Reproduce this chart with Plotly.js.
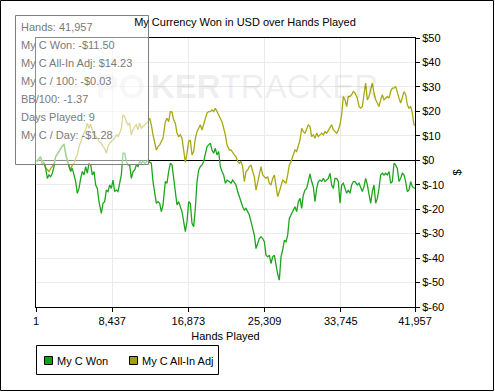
<!DOCTYPE html>
<html>
<head>
<meta charset="utf-8">
<script src="https://cdn.plot.ly/plotly-3.0.1.min.js"></script>
<style>
html,body{margin:0;padding:0;background:#fff;}
#chart{width:495px;height:392px;}
</style>
</head>
<body>
<div id="chart"></div>
<script>
// ---- data ----
const seriesNames = ['My C Won', 'My C All-In Adj'];
const hands = [1,
149,333,518,702,887,1071,1256,1440,1625,1809,1994,2178,2363,2547,2732,2916,3101,3285,3470,3654,3839,4023,4208,4392,4577,4761,4946,5130,5315,5499,5684,5868,6053,6237,6422,6606,6791,6975,
7233,7418,7602,7787,7971,8156,8340,8525,8709,8894,9078,9263,9447,9632,9816,10001,10185,10370,10554,10739,10923,11108,11292,11477,11661,11846,12030,12215,12399,12584,12768,12953,13137,13322,13506,13691,13875,14060,
14318,14503,14687,14872,15056,15241,15425,15610,15794,15979,16163,16348,16532,16717,16901,17086,17270,17455,17639,17824,18008,18193,18377,18562,18746,18931,19115,19300,19484,19669,19853,20038,20222,20407,20591,20776,20960,21145,
21403,21588,21772,21957,22141,22326,22510,22695,22879,23064,23248,23433,23617,23802,23986,24171,24355,24540,24724,24909,25093,25278,25462,25647,25831,26016,26200,26385,26569,26754,26938,27123,27307,27492,27676,27861,28045,28230,
28488,28672,28857,29041,29226,29410,29595,29779,29964,30148,30333,30517,30702,30886,31071,31255,31440,31624,31809,31993,32178,32362,32547,32731,32916,33100,33285,33469,33654,33838,34023,34207,34392,34576,34761,34945,35130,35314,
35573,35757,35942,36126,36311,36495,36680,36864,37049,37233,37418,37602,37787,37971,38156,38340,38525,38709,38894,39078,39263,39447,39632,39816,40001,40185,40370,40554,40739,40923,41108,41292,41477,41661,41846,
41957];
const wonUSD = [0,
-0.3,0.8,1.5,-1.9,-0.8,-3.3,-7.4,-6.0,-6.7,-5.3,-2.6,1.5,2.9,3.6,4.9,6.0,6.6,2.2,-0.5,-2.6,-4.6,-3.3,-6.0,-8.7,-13.5,-11.5,-7.4,-4.6,-6.0,-2.6,-5.3,-1.2,-1.9,-6.0,-4.6,-10.1,-11.5,-16.9,
-21.7,-17.6,-16.9,-12.2,-12.8,-10.1,-11.5,-8.1,-12.8,-12.2,-12.8,-9.4,-6.0,2.9,2.9,-0.5,-1.9,-1.9,-7.4,-4.6,-4.0,-1.9,-2.6,-0.5,-1.2,-0.3,-1.2,-0.8,0.1,-0.8,-1.2,-8.7,-12.8,-17.6,-16.9,-17.6,-21.0,-18.3,
-8.7,-9.4,-4.6,-1.2,-1.9,-7.4,-12.8,-18.3,-16.9,-19.0,-21.0,-25.1,-29.2,-25.1,-16.9,-17.6,-25.8,-27.2,-19.7,-8.7,-4.0,-2.6,-1.9,-0.5,2.2,5.6,6.3,7.0,4.2,2.9,4.9,2.2,3.6,-2.6,-4.6,-6.0,-9.4,-8.1,
-8.7,-9.4,-8.1,-9.4,-10.1,-12.8,-14.9,-17.6,-19.0,-20.4,-19.7,-21.0,-22.4,-25.1,-27.9,-30.6,-36.1,-34.0,-32.0,-31.3,-32.0,-33.3,-38.8,-39.5,-38.8,-42.2,-39.5,-38.8,-42.9,-46.5,-49.0,-39.5,-36.7,-32.7,-33.3,-30.6,-23.8,-22.4,
-21.0,-19.0,-21.0,-16.9,-15.6,-19.7,-14.2,-12.2,-11.5,-8.7,-5.6,-8.7,-10.8,-16.9,-11.5,-8.7,-8.1,-8.7,-7.4,-8.7,-8.1,-7.4,-5.3,-10.1,-11.5,-7.4,-7.4,-8.7,-17.6,-10.1,-9.4,-11.5,-13.5,-12.2,-13.5,-10.1,-8.7,-8.7,
-10.1,-9.4,-10.8,-12.8,-10.8,-7.4,-10.1,-14.2,-17.6,-12.8,-10.1,-17.6,-15.6,-11.5,-6.0,-5.3,-6.0,-5.3,-6.0,-4.6,-9.4,-8.7,-1.2,-1.9,-3.3,-8.7,-7.4,-5.3,-6.0,-8.7,-12.8,-12.2,-8.7,-10.8,-11.5,
-11.50];
const allInAdjUSD = [0,
-0.3,0.5,0.8,-0.3,-1.2,-3.0,-4.0,-4.6,-3.3,-2.6,-1.2,1.5,2.2,3.6,4.9,6.0,6.6,2.9,0.1,-1.9,-4.0,-1.9,-1.2,0.8,2.2,5.6,7.7,9.7,11.1,12.4,15.2,13.1,14.8,12.4,10.4,9.7,9.0,7.7,
7.0,5.6,4.9,2.9,5.6,7.0,7.7,8.3,9.0,10.4,9.7,11.1,13.1,18.6,17.9,15.8,14.5,15.2,10.4,12.4,13.8,14.5,12.4,15.2,13.1,13.8,14.5,15.2,15.8,17.2,14.5,10.4,7.7,4.2,5.6,6.3,7.7,9.0,
15.8,17.2,15.8,19.9,19.7,16.5,15.2,11.1,9.7,10.4,9.0,4.9,-0.8,2.9,7.7,8.3,2.2,3.6,9.0,11.7,13.1,14.5,12.4,14.5,17.2,19.3,19.9,19.9,20.6,19.9,21.3,19.9,18.6,17.2,15.8,13.1,10.4,6.3,
4.2,4.2,2.9,2.2,1.5,-0.5,-1.2,-0.5,-2.6,-8.7,-4.6,-4.0,-2.6,-1.9,-4.6,-6.7,-12.2,-8.7,-5.3,-2.6,-6.0,-6.7,-7.4,-6.7,-9.4,-10.1,-7.4,-6.0,-10.1,-14.9,-12.8,-10.8,-8.1,-8.7,-9.4,-6.0,-1.9,-0.5,
2.2,4.2,3.6,5.6,8.3,13.1,11.7,11.1,13.1,14.5,13.8,9.7,10.4,9.0,11.1,9.7,10.4,11.1,10.4,11.7,11.1,12.4,13.1,14.5,12.4,11.7,11.1,12.4,14.5,18.6,26.1,24.7,22.0,26.1,26.1,26.8,28.1,27.5,
25.4,22.0,21.3,22.0,27.5,31.6,24.7,26.1,28.8,31.6,27.5,24.7,23.4,22.0,24.7,26.8,24.7,25.4,26.1,25.4,28.1,29.5,29.5,30.2,27.5,25.4,23.4,25.4,28.1,26.8,22.7,21.3,22.0,19.3,14.5,
14.23];
const xTickVals = [1, 8437, 16873, 25309, 33745, 41957];
const xTickText = ['1', '8,437', '16,873', '25,309', '33,745', '41,957'];
const yTickVals = [50, 40, 30, 20, 10, 0, -10, -20, -30, -40, -50, -60];
const yTickText = ['$50', '$40', '$30', '$20', '$10', '$0', '$-10', '$-20', '$-30', '$-40', '$-50', '$-60'];
const infoLines = ['Hands: 41,957', 'My C Won: -$11.50', 'My C All-In Adj: $14.23', 'My C / 100: -$0.03', 'BB/100: -1.37', 'Days Played: 9', 'My C / Day: -$1.28'];

// ---- styling / geometry ----
const FONT = 'Liberation Sans, Arial, sans-serif';
const colors = ['#1ea51e', '#a8a810'];
const PL = 36, PR = 415, PT = 38, PB = 307;
const fx = px => (px - PL) / (PR - PL);
const fy = py => (PB - py) / (PB - PT);

const traces = [
  {x: hands, y: allInAdjUSD, name: seriesNames[1], type: 'scatter', mode: 'lines',
   line: {color: colors[1], width: 1.3}, hoverinfo: 'skip'},
  {x: hands, y: wonUSD, name: seriesNames[0], type: 'scatter', mode: 'lines',
   line: {color: colors[0], width: 1.3}, hoverinfo: 'skip'}
];

const shapes = [];
const annotations = [];

// watermark
annotations.push({xref: 'paper', yref: 'paper', x: fx(147), y: fy(86), xanchor: 'right', yanchor: 'middle',
  text: '<b>PO</b>', showarrow: false, font: {family: FONT, size: 34, color: 'rgba(0,0,0,0.045)'}});
annotations.push({xref: 'paper', yref: 'paper', x: fx(149), y: fy(86), xanchor: 'left', yanchor: 'middle',
  text: '<b>KER</b>TRACKER', showarrow: false, font: {family: FONT, size: 33, color: 'rgba(0,0,0,0.085)'}});

// info box
shapes.push({type: 'rect', xref: 'paper', yref: 'paper', layer: 'above',
  x0: fx(15.5), x1: fx(148.5), y0: fy(164.5), y1: fy(15.5),
  fillcolor: 'rgba(255,255,255,0.55)', line: {color: '#808080', width: 1}});
infoLines.forEach((t, i) => {
  annotations.push({xref: 'paper', yref: 'paper', x: fx(19), y: fy(27 + 18 * i), xanchor: 'left', yanchor: 'middle',
    text: t, showarrow: false, font: {family: FONT, size: 11, color: '#7a7a7a'}});
});

// legend (boxed, square swatches)
shapes.push({type: 'rect', xref: 'paper', yref: 'paper', layer: 'above',
  x0: fx(36.5), x1: fx(218.5), y0: fy(374.5), y1: fy(345.5), fillcolor: 'rgba(0,0,0,0)', line: {color: '#000', width: 1}});
const legX = [44.5, 129.5];
const legTX = [55, 140];
seriesNames.forEach((n, i) => {
  shapes.push({type: 'rect', xref: 'paper', yref: 'paper', layer: 'above',
    x0: fx(legX[i]), x1: fx(legX[i] + 8), y0: fy(364.5), y1: fy(356.5),
    fillcolor: i === 0 ? '#13a013' : '#a0a000', line: {color: '#000', width: 1}});
  annotations.push({xref: 'paper', yref: 'paper', x: fx(legTX[i]), y: fy(361), xanchor: 'left', yanchor: 'middle',
    text: n, showarrow: false, font: {family: FONT, size: 11, color: '#000'}});
});

// outer frame
shapes.push({type: 'rect', xref: 'paper', yref: 'paper', layer: 'above',
  x0: fx(0.5), x1: fx(493.5), y0: fy(390.5), y1: fy(0.5), fillcolor: 'rgba(0,0,0,0)', line: {color: '#000', width: 1}});

const layout = {
  width: 495, height: 392,
  margin: {l: PL, r: 495 - PR, t: PT, b: 392 - PB, pad: 0},
  paper_bgcolor: '#fff', plot_bgcolor: 'rgba(0,0,0,0)',
  showlegend: false,
  font: {family: FONT, size: 11, color: '#000'},
  title: {text: 'My Currency Won in USD over Hands Played', font: {family: FONT, size: 11, color: '#000'},
    xref: 'container', yref: 'container', x: 245 / 495, y: 1 - 22 / 392, xanchor: 'center', yanchor: 'middle'},
  xaxis: {range: [1, 41957], tickvals: xTickVals, ticktext: xTickText, ticks: 'outside', ticklen: 4, tickcolor: '#000',
    showline: true, linecolor: '#000', linewidth: 1, mirror: true, showgrid: true, gridcolor: '#ebebeb', gridwidth: 1,
    zeroline: false, automargin: false, tickfont: {family: FONT, size: 11, color: '#000'},
    title: {text: 'Hands Played', font: {family: FONT, size: 11, color: '#000'}, standoff: 6}},
  yaxis: {range: [-60, 50], side: 'right', tickvals: yTickVals, ticktext: yTickText, ticks: 'outside', ticklen: 4, tickcolor: '#000',
    showline: true, linecolor: '#000', linewidth: 1, mirror: true, showgrid: true, gridcolor: '#ebebeb', gridwidth: 1,
    zeroline: true, zerolinecolor: '#000', zerolinewidth: 1.2, automargin: false,
    tickfont: {family: FONT, size: 11, color: '#000'},
    title: {text: '$', font: {family: FONT, size: 11, color: '#000'}, standoff: 10}},
  shapes: shapes,
  annotations: annotations
};

Plotly.newPlot('chart', traces, layout, {displayModeBar: false, staticPlot: true});
</script>
</body>
</html>
